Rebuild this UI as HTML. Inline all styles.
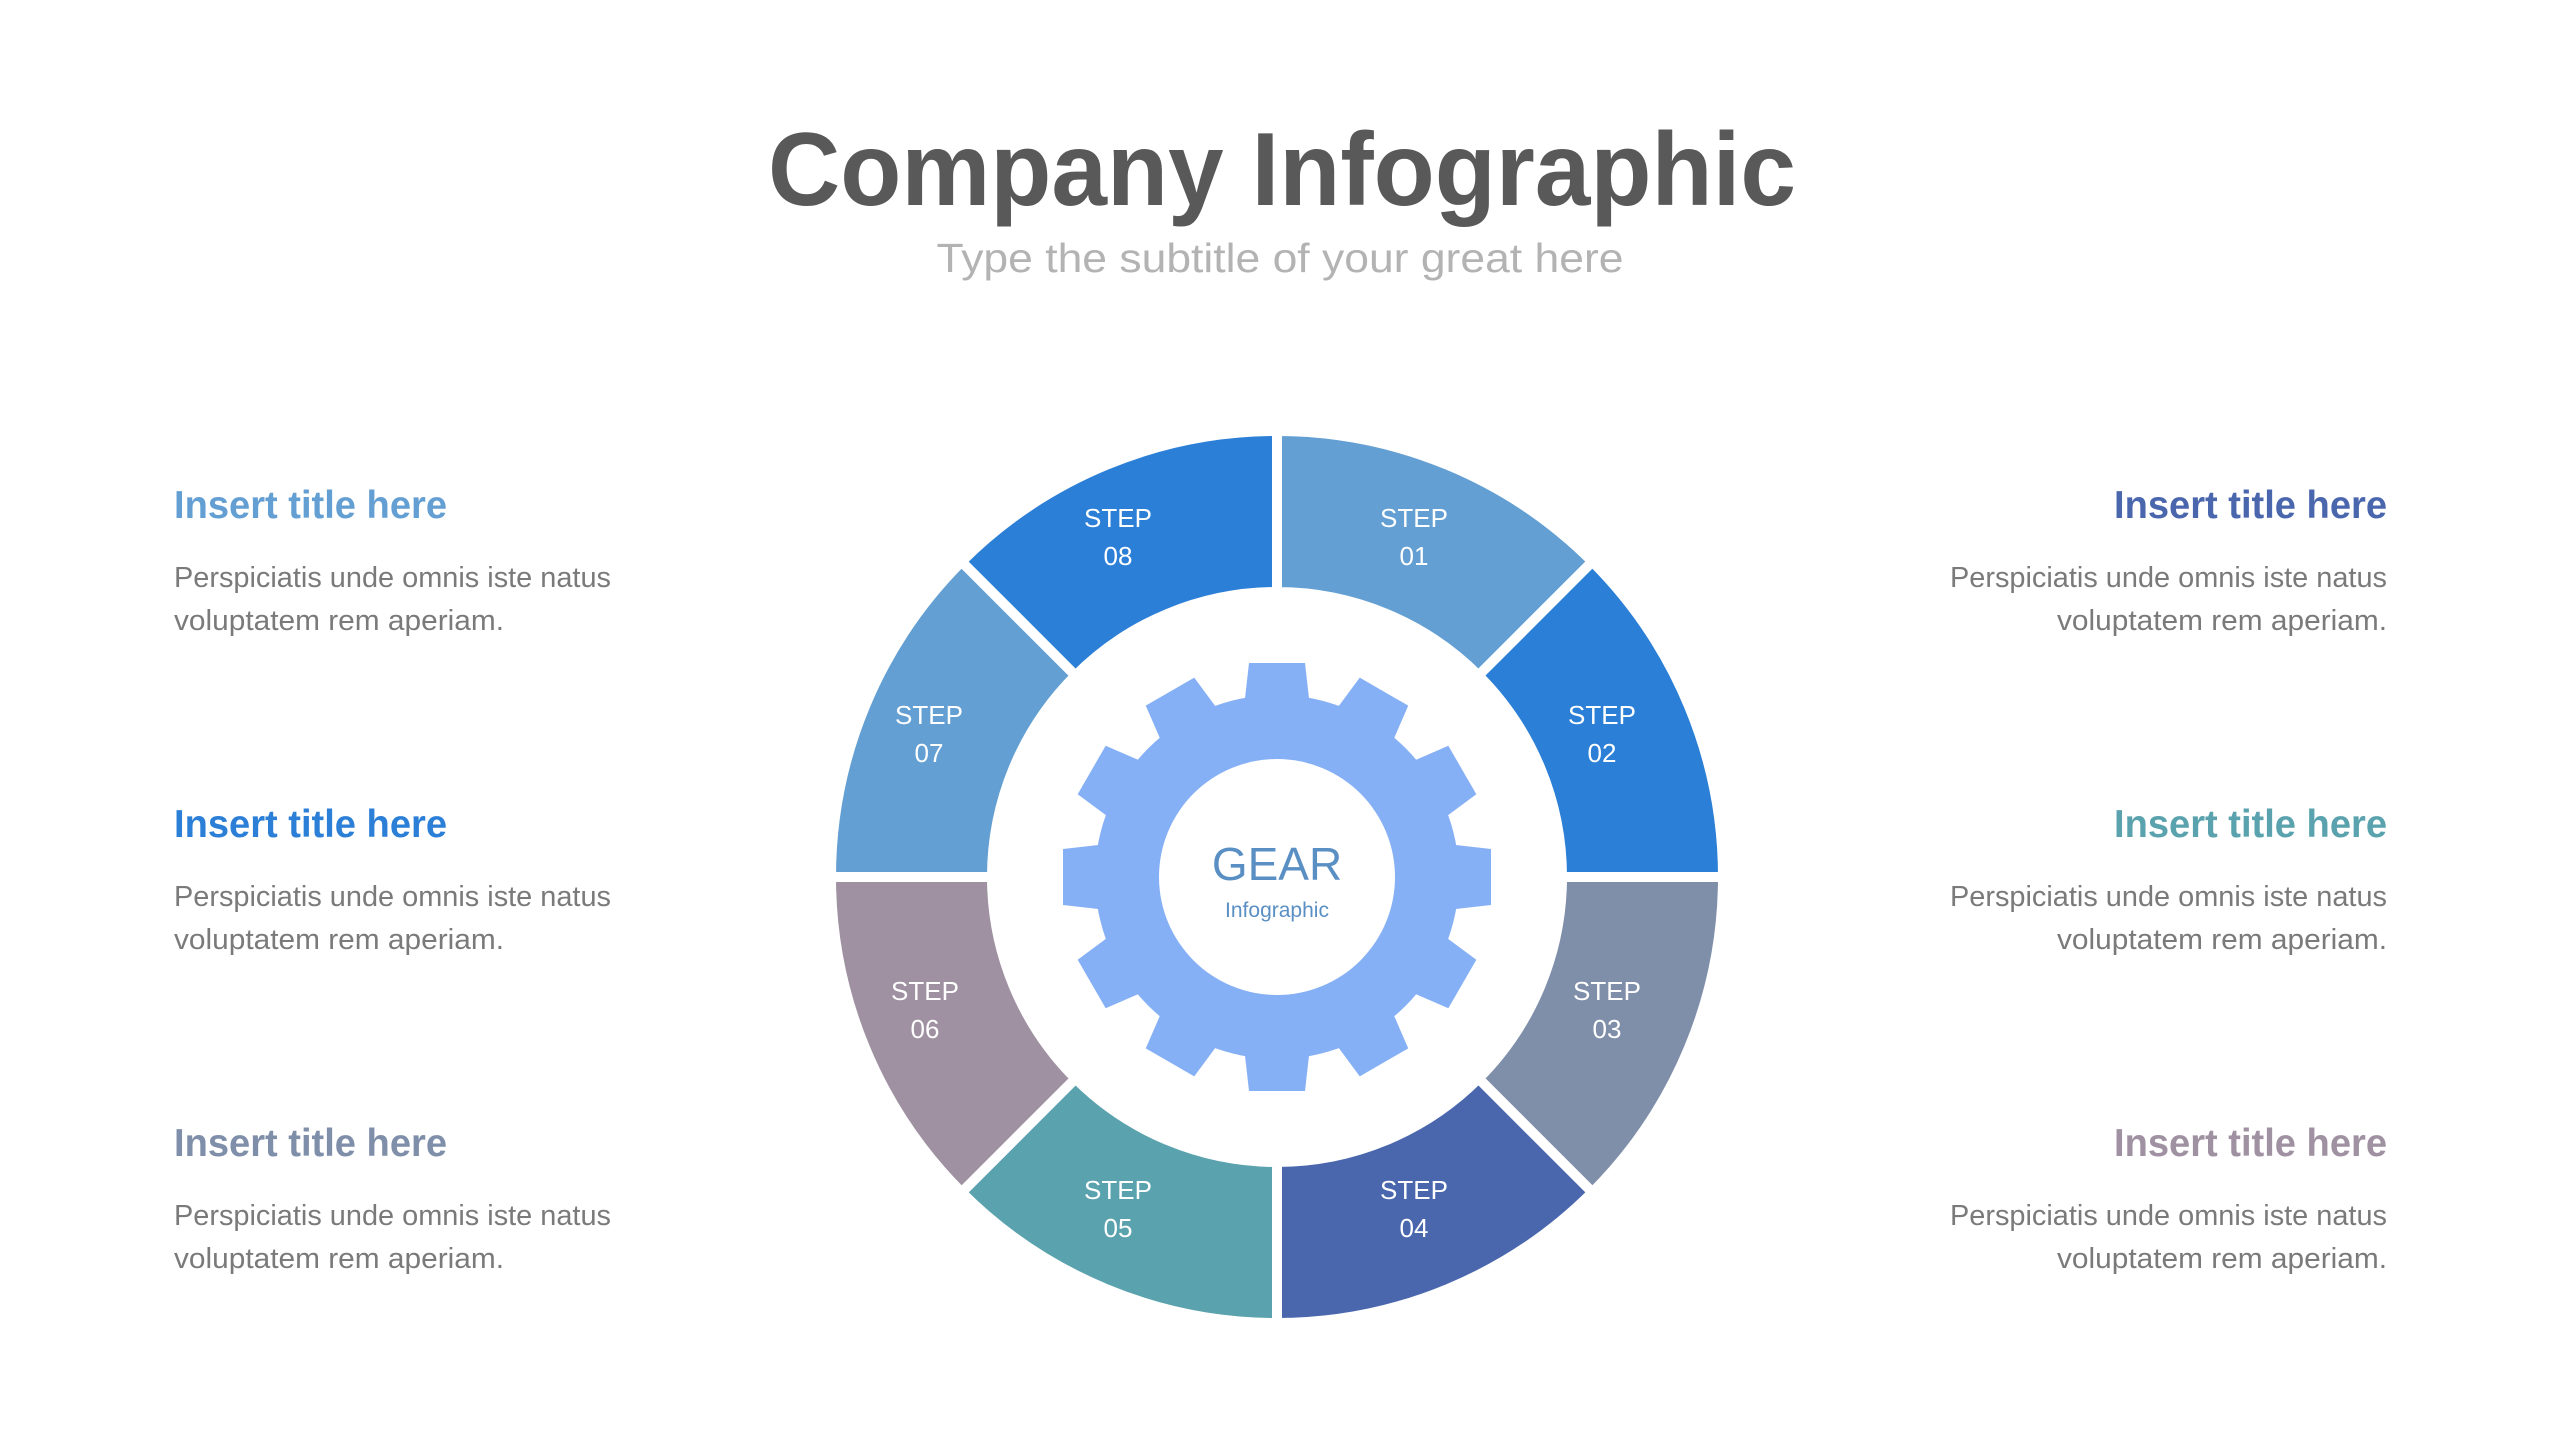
<!DOCTYPE html>
<html><head><meta charset="utf-8"><style>
html,body{margin:0;padding:0;background:#fff;width:2560px;height:1440px;overflow:hidden}
svg{display:block}
text{font-family:"Liberation Sans",sans-serif}
</style></head><body>
<svg width="2560" height="1440" viewBox="0 0 2560 1440" xmlns="http://www.w3.org/2000/svg">
<rect width="2560" height="1440" fill="#fff"/>
<text x="1282" y="205" text-anchor="middle" font-size="104" font-weight="bold" fill="#595959" textLength="1028" lengthAdjust="spacingAndGlyphs">Company Infographic</text>
<text x="1280" y="272" text-anchor="middle" font-size="41" fill="#b3b3b3" textLength="687" lengthAdjust="spacingAndGlyphs">Type the subtitle of your great here</text>

<g font-size="29" fill="#7a7a7a">
<text x="174" y="518" font-size="39" font-weight="bold" fill="#639fd2" textLength="273" lengthAdjust="spacingAndGlyphs">Insert title here</text>
<text x="174" y="587" textLength="437" lengthAdjust="spacingAndGlyphs">Perspiciatis unde omnis iste natus</text>
<text x="174" y="630" textLength="330" lengthAdjust="spacingAndGlyphs">voluptatem rem aperiam.</text>
<text x="174" y="837" font-size="39" font-weight="bold" fill="#2b7fd6" textLength="273" lengthAdjust="spacingAndGlyphs">Insert title here</text>
<text x="174" y="906" textLength="437" lengthAdjust="spacingAndGlyphs">Perspiciatis unde omnis iste natus</text>
<text x="174" y="949" textLength="330" lengthAdjust="spacingAndGlyphs">voluptatem rem aperiam.</text>
<text x="174" y="1156" font-size="39" font-weight="bold" fill="#7f8fa9" textLength="273" lengthAdjust="spacingAndGlyphs">Insert title here</text>
<text x="174" y="1225" textLength="437" lengthAdjust="spacingAndGlyphs">Perspiciatis unde omnis iste natus</text>
<text x="174" y="1268" textLength="330" lengthAdjust="spacingAndGlyphs">voluptatem rem aperiam.</text>
</g>
<g font-size="29" fill="#7a7a7a" text-anchor="end">
<text x="2387" y="518" font-size="39" font-weight="bold" fill="#4a67ae" textLength="273" lengthAdjust="spacingAndGlyphs">Insert title here</text>
<text x="2387" y="587" textLength="437" lengthAdjust="spacingAndGlyphs">Perspiciatis unde omnis iste natus</text>
<text x="2387" y="630" textLength="330" lengthAdjust="spacingAndGlyphs">voluptatem rem aperiam.</text>
<text x="2387" y="837" font-size="39" font-weight="bold" fill="#5aa2ad" textLength="273" lengthAdjust="spacingAndGlyphs">Insert title here</text>
<text x="2387" y="906" textLength="437" lengthAdjust="spacingAndGlyphs">Perspiciatis unde omnis iste natus</text>
<text x="2387" y="949" textLength="330" lengthAdjust="spacingAndGlyphs">voluptatem rem aperiam.</text>
<text x="2387" y="1156" font-size="39" font-weight="bold" fill="#9f91a1" textLength="273" lengthAdjust="spacingAndGlyphs">Insert title here</text>
<text x="2387" y="1225" textLength="437" lengthAdjust="spacingAndGlyphs">Perspiciatis unde omnis iste natus</text>
<text x="2387" y="1268" textLength="330" lengthAdjust="spacingAndGlyphs">voluptatem rem aperiam.</text>
</g>

<g transform="translate(1277,877)">
<g stroke="#fff" stroke-width="10" stroke-linejoin="miter">
<path fill="#639fd2" d="M0,-446 A446,446 0 0 1 315.4,-315.4 L201.5,-201.5 A285,285 0 0 0 0,-285 Z"/>
<path fill="#2b7fd6" d="M315.4,-315.4 A446,446 0 0 1 446,0 L285,0 A285,285 0 0 0 201.5,-201.5 Z"/>
<path fill="#7f8fa9" d="M446,0 A446,446 0 0 1 315.4,315.4 L201.5,201.5 A285,285 0 0 0 285,0 Z"/>
<path fill="#4a67ae" d="M315.4,315.4 A446,446 0 0 1 0,446 L0,285 A285,285 0 0 0 201.5,201.5 Z"/>
<path fill="#5aa2ad" d="M0,446 A446,446 0 0 1 -315.4,315.4 L-201.5,201.5 A285,285 0 0 0 0,285 Z"/>
<path fill="#9f91a1" d="M-315.4,315.4 A446,446 0 0 1 -446,0 L-285,0 A285,285 0 0 0 -201.5,201.5 Z"/>
<path fill="#639fd2" d="M-446,0 A446,446 0 0 1 -315.4,-315.4 L-201.5,-201.5 A285,285 0 0 0 -285,0 Z"/>
<path fill="#2b7fd6" d="M-315.4,-315.4 A446,446 0 0 1 0,-446 L0,-285 A285,285 0 0 0 -201.5,-201.5 Z"/>
</g>
<g fill="#fff" font-size="26" text-anchor="middle">
<text x="137" y="-350">STEP<tspan x="137" dy="38">01</tspan></text>
<text x="325" y="-153">STEP<tspan x="325" dy="38">02</tspan></text>
<text x="330" y="123">STEP<tspan x="330" dy="38">03</tspan></text>
<text x="137" y="322">STEP<tspan x="137" dy="38">04</tspan></text>
<text x="-159" y="322">STEP<tspan x="-159" dy="38">05</tspan></text>
<text x="-352" y="123">STEP<tspan x="-352" dy="38">06</tspan></text>
<text x="-348" y="-153">STEP<tspan x="-348" dy="38">07</tspan></text>
<text x="-159" y="-350">STEP<tspan x="-159" dy="38">08</tspan></text>
</g>
<g fill="#86b0f5">
<circle r="182"/>
<g id="t"><polygon points="-33,-170 -28,-214 28,-214 33,-170"/></g>
<use href="#t" transform="rotate(30)"/><use href="#t" transform="rotate(60)"/><use href="#t" transform="rotate(90)"/>
<use href="#t" transform="rotate(120)"/><use href="#t" transform="rotate(150)"/><use href="#t" transform="rotate(180)"/>
<use href="#t" transform="rotate(210)"/><use href="#t" transform="rotate(240)"/><use href="#t" transform="rotate(270)"/>
<use href="#t" transform="rotate(300)"/><use href="#t" transform="rotate(330)"/>
</g>
<circle r="118" fill="#fff"/>
<text x="0" y="3" text-anchor="middle" font-size="46" fill="#5a8fc4">GEAR</text>
<text x="0" y="40" text-anchor="middle" font-size="21" fill="#5a8fc4">Infographic</text>
</g>
</svg>
</body></html>
